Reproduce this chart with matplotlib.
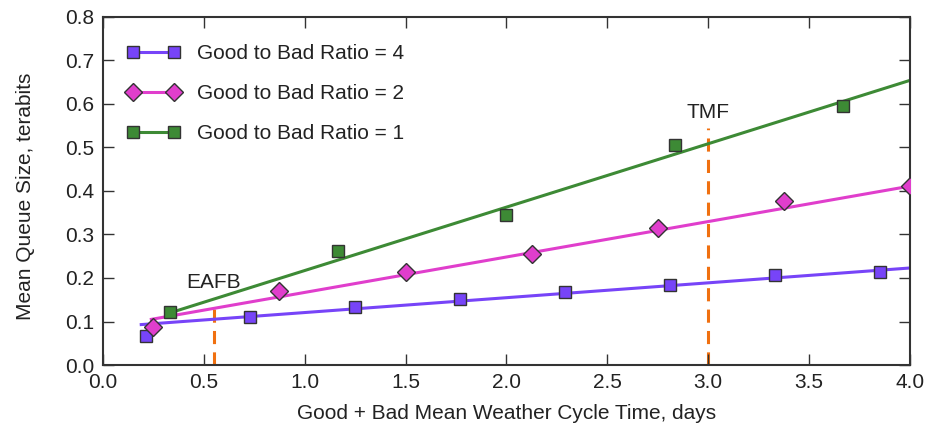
import matplotlib
matplotlib.use("Agg")
import matplotlib.pyplot as plt
from matplotlib.lines import Line2D
import numpy as np

plt.rcParams['font.family'] = ['Liberation Sans', 'DejaVu Sans']

# Data
x_r4 = [0.214, 0.729, 1.25, 1.77, 2.29, 2.81, 3.33, 3.85]
y_r4 = [0.066, 0.110, 0.133, 0.151, 0.167, 0.183, 0.206, 0.213]
x_r2 = [0.25, 0.875, 1.5, 2.125, 2.75, 3.375, 4.0]
y_r2 = [0.087, 0.169, 0.213, 0.254, 0.315, 0.377, 0.411]
x_r1 = [0.333, 1.167, 2.0, 2.833, 3.667]
y_r1 = [0.121, 0.261, 0.345, 0.505, 0.594]

# Fit line endpoints
fit_x_r4 = [0.19, 4.0]
fit_y_r4 = [0.093, 0.223]
fit_x_r2 = [0.24, 4.0]
fit_y_r2 = [0.105, 0.411]
fit_x_r1 = [0.333, 4.0]
fit_y_r1 = [0.120, 0.654]

labels = ["Good to Bad Ratio = 4", "Good to Bad Ratio = 2", "Good to Bad Ratio = 1"]

site_x = [0.55, 3.0]
site_top = [0.130, 0.544]
site_labels = ["EAFB", "TMF"]
site_label_y = [0.19, 0.58]

c4 = '#7744f8'
c2 = '#e03ecc'
c1 = '#3d8a35'
corange = '#f07010'
FS = 15

fig = plt.figure(figsize=(9.27, 4.30), dpi=100)
ax = fig.add_axes([0.111, 0.151, 0.8707, 0.810])

for fx, fy, xs, ys, c, m, lab in [
    (fit_x_r4, fit_y_r4, x_r4, y_r4, c4, 's', labels[0]),
    (fit_x_r2, fit_y_r2, x_r2, y_r2, c2, 'D', labels[1]),
    (fit_x_r1, fit_y_r1, x_r1, y_r1, c1, 's', labels[2]),
]:
    ax.plot(fx, fy, color=c, lw=2.2, zorder=2)
    ax.plot(xs, ys, linestyle='none', marker=m, markersize=9, markerfacecolor=c,
            markeredgecolor='#333333', markeredgewidth=1.0, zorder=3)

handles = [
    Line2D([], [], color=c4, lw=2.2, marker='s', markersize=9, markerfacecolor=c4, markeredgecolor='#333333'),
    Line2D([], [], color=c2, lw=2.2, marker='D', markersize=9, markerfacecolor=c2, markeredgecolor='#333333'),
    Line2D([], [], color=c1, lw=2.2, marker='s', markersize=9, markerfacecolor=c1, markeredgecolor='#333333'),
]
leg = ax.legend(handles, labels, loc='upper left', frameon=False, numpoints=2,
                fontsize=FS, handlelength=2.6, labelspacing=1.0,
                bbox_to_anchor=(0.006, 0.975), borderaxespad=0.5, handletextpad=0.8)
for t in leg.get_texts():
    t.set_color('#222222')

for sx, st, sl, sy in zip(site_x, site_top, site_labels, site_label_y):
    ax.plot([sx, sx], [0, st], color=corange, lw=2.2, linestyle=(0, (4.3, 2.7)), zorder=1)
    ax.text(sx, sy, sl, ha='center', va='center', fontsize=FS, color='#222222')

ax.set_xlim(0, 4.0)
ax.set_ylim(0, 0.8)
xt = np.arange(0, 4.01, 0.5)
yt = np.arange(0, 0.81, 0.1)
ax.set_xticks(xt)
ax.set_yticks(yt)
ax.set_xticklabels([f"{v:.1f}" for v in xt])
ax.set_yticklabels([f"{v:.1f}" for v in yt])
ax.tick_params(direction='in', top=True, right=True, length=8, width=1,
               labelsize=FS, colors='#333333', labelcolor='#222222', pad=6)
for s in ax.spines.values():
    s.set_linewidth(1.5)
    s.set_color('#333333')

ax.set_xlabel("Good + Bad Mean Weather Cycle Time, days", fontsize=FS, color='#222222', labelpad=8)
ax.set_ylabel("Mean Queue Size, terabits", fontsize=FS, color='#222222', labelpad=22)
ax.yaxis.label.set_y(0.485)

fig.savefig("out.png", dpi=100)
